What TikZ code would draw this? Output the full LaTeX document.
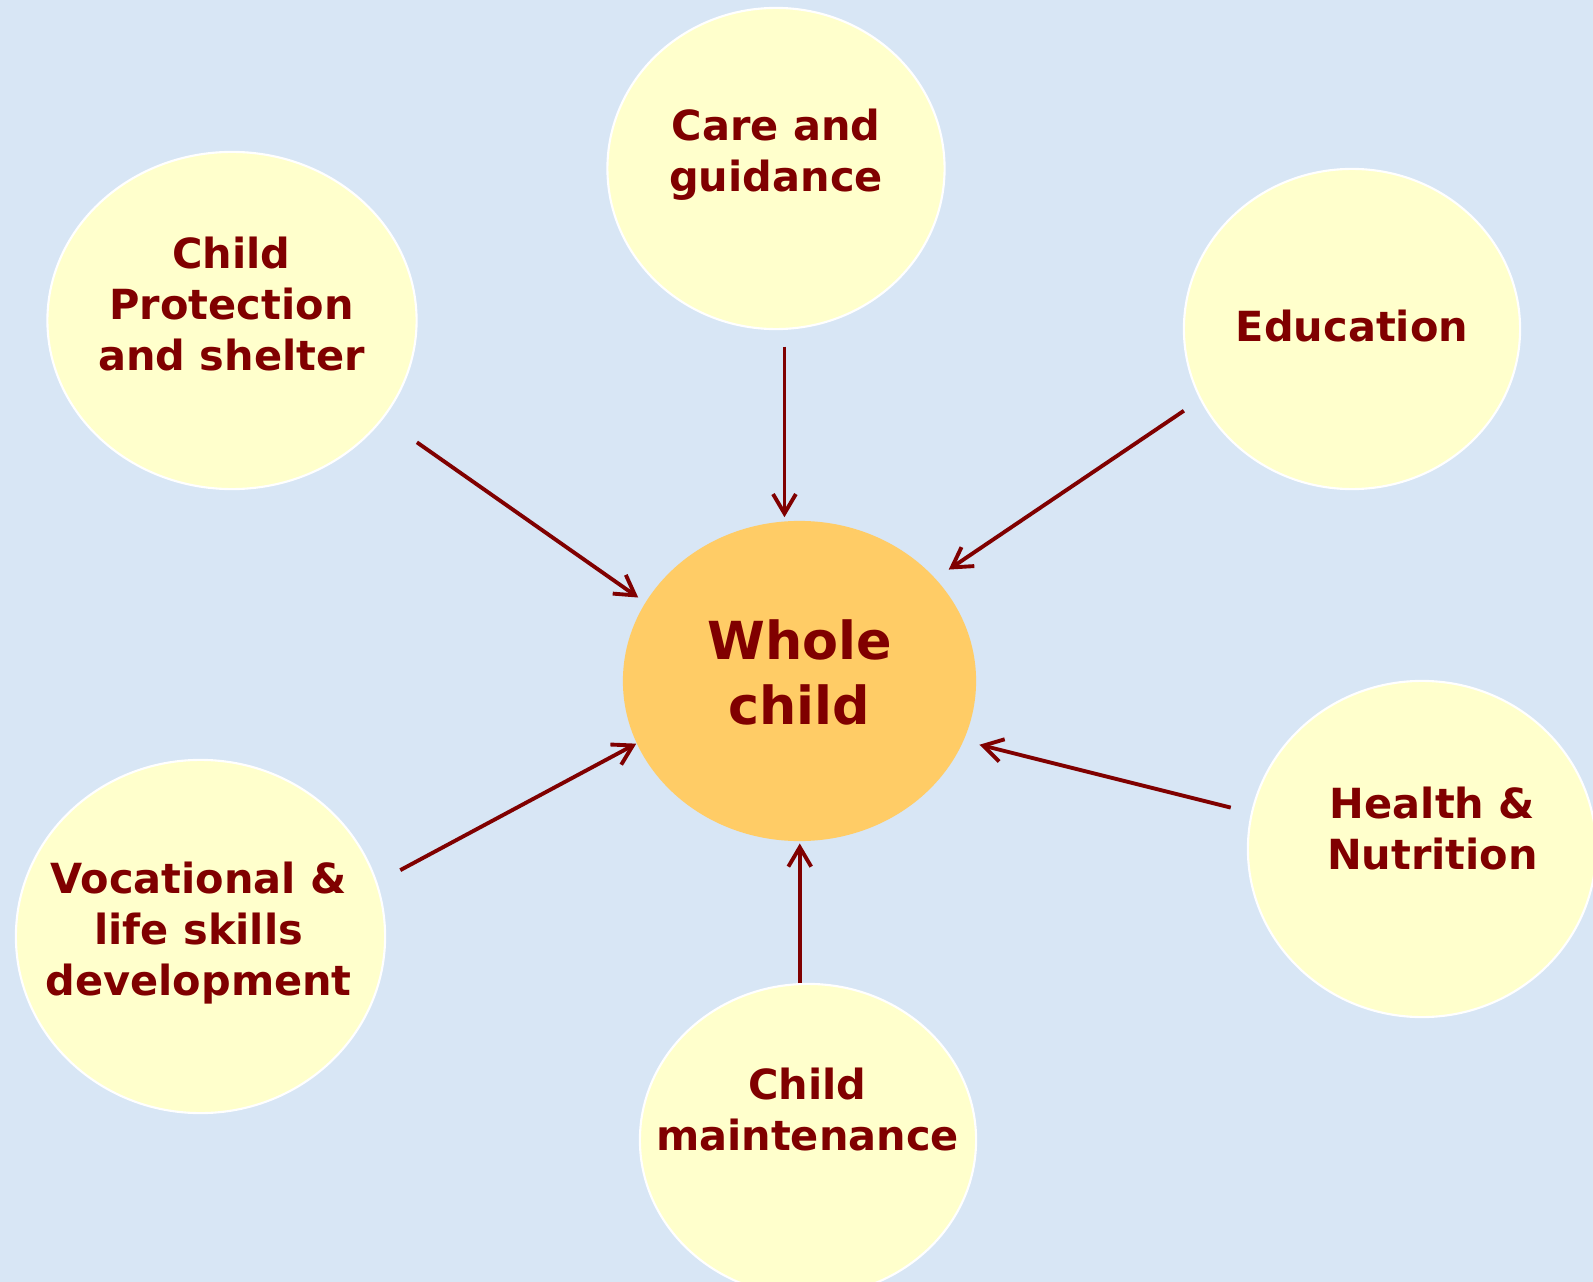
\documentclass[tikz,border=0pt]{standalone}
\usepackage{fontspec}
\setmainfont{DejaVu Sans}
\usetikzlibrary{shapes.geometric,arrows.meta}
\definecolor{paper}{HTML}{D8E6F5}
\definecolor{pale}{HTML}{FFFFCC}
\definecolor{core}{HTML}{FFCC66}
\definecolor{maroon}{HTML}{800000}
\tikzset{
  bubble/.style = {ellipse, fill=pale, draw=white, line width=0.6pt, inner sep=0pt},
  lbl/.style = {text=maroon, align=center, inner sep=0pt,
    font=\bfseries\fontsize{11.8}{14.5}\selectfont},
  feed/.style = {->, maroon, line width=1.1pt}
}
\tikzset{>={Straight Barb[length=5.5pt,width=6.5pt]}}

\begin{document}
\begin{tikzpicture}[x=0.01cm,y=-0.01cm]
  \fill[paper] (0,0) rectangle (1593,1282);
  \useasboundingbox (0,0) rectangle (1593,1282);
  \begin{scope}
    \clip (0,0) rectangle (1593,1282);
    \node[bubble,minimum width=3.37cm,minimum height=3.21cm] (care) at (776,168.5) {};
    \node[bubble,minimum width=3.69cm,minimum height=3.37cm] (prot) at (232,320.5) {};
    \node[bubble,minimum width=3.36cm,minimum height=3.20cm] (edu) at (1352,329) {};
    \node[bubble,minimum width=3.48cm,minimum height=3.36cm] (health) at (1422,849) {};
    \node[bubble,minimum width=3.69cm,minimum height=3.53cm] (voc) at (200.5,936.5) {};
    \node[bubble,minimum width=3.36cm,minimum height=3.12cm] (maint) at (808,1140) {};
    \node[ellipse,fill=core,inner sep=0pt,minimum width=3.53cm,minimum height=3.20cm]
      (whole) at (799.5,681) {};
  \end{scope}

  \node[lbl] (care-t) at (776,154.9) {Care and\\guidance};
  \node[lbl] (prot-t) at (231.5,303.8) {Child\\Protection\\and shelter};
  \node[lbl] (edu-t) at (1352,326.3) {Education};
  \node[lbl] (health-t) at (1432.5,828.3) {Health \&\\Nutrition};
  \node[lbl] (voc-t) at (198.7,932.7) {Vocational \&\\life skills\\development};
  \node[lbl] (maint-t) at (807.5,1109.3) {Child\\maintenance};
  \node[lbl,font=\bfseries\fontsize{14.9}{18.5}\selectfont] (whole-t) at (799.5,672.6) {Whole\\child};

  % arrows into the centre
  \draw[feed,shorten <=1.66mm,shorten >=0.3mm] (care.-87.2) -- (care.-87.2 |- whole.north);
  \draw[feed,shorten <=4.1mm,shorten >=0.82mm] (prot.-33) -- (whole.153.4);
  \draw[feed,shorten <=1.95mm,shorten >=1.55mm] (edu.205.4) -- (whole.37.9);
  \draw[feed,shorten <=2.08mm,shorten >=1.59mm] (health.168.1) -- (whole.-20.2);
  \draw[feed,shorten >=0.17mm] (maint.93) -- (maint.93 |- whole.south);
  \draw[feed,shorten <=2.6mm] (voc.17.5) -- (whole.201.7);
\end{tikzpicture}
\end{document}
